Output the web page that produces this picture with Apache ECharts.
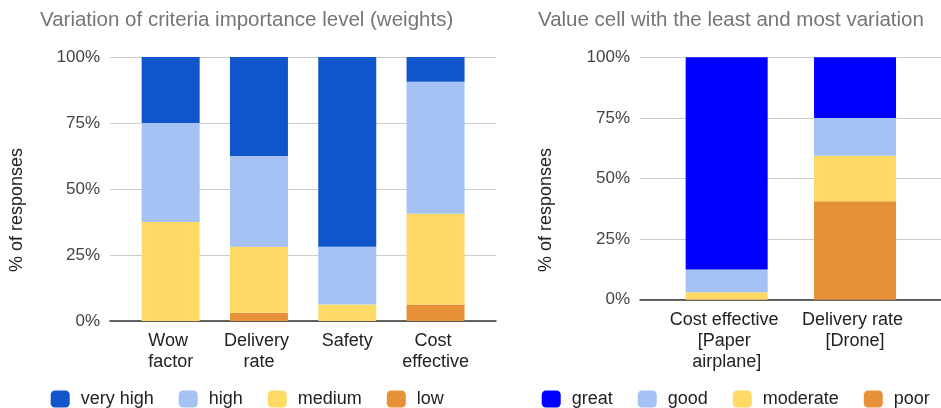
<!DOCTYPE html>
<html>
<head>
<meta charset="utf-8">
<script src="https://cdn.jsdelivr.net/npm/echarts@6/dist/echarts.min.js"></script>
<style>
html,body{margin:0;padding:0;background:#fff;}
#chart{width:941px;height:408px;}
</style>
</head>
<body>
<div id="chart"></div>
<script>
// ---- data ----
const leftTitle = 'Variation of criteria importance level (weights)';
const rightTitle = 'Value cell with the least and most variation';
const yAxisName = '% of responses';
const yTicks = [0, 25, 50, 75, 100];

const leftCategories = ['Wow factor', 'Delivery rate', 'Safety', 'Cost effective'];
const lowVals      = [0,    3.1,  0,    6.25];
const mediumVals   = [37.5, 25,   6.25, 34.4];
const highVals     = [37.5, 34.4, 21.9, 50];
const veryHighVals = [25,   37.5, 71.9, 9.4];

const rightCategories = ['Cost effective [Paper airplane]', 'Delivery rate [Drone]'];
const poorVals     = [0,    40.6];
const moderateVals = [3.1,  18.8];
const goodVals     = [9.4,  15.6];
const greatVals    = [87.5, 25];

const leftNames = ['low', 'medium', 'high', 'very high'];
const rightNames = ['poor', 'moderate', 'good', 'great'];

// ---- styles ----
const FONT = 'Liberation Sans, Arial, sans-serif';
const leftColors = ['#e69138', '#ffd966', '#a4c2f4', '#1155cc'];
const rightColors = ['#e69138', '#ffd966', '#a4c2f4', '#0000ff'];

const chart = echarts.init(document.getElementById('chart'), null, {renderer: 'canvas'});

function lineGrid(idx) {
  return {
    y: {
      gridIndex: idx, type: 'value', min: yTicks[0], max: yTicks[yTicks.length - 1], interval: 25,
      axisLine: {show: false}, axisTick: {show: false},
      axisLabel: {formatter: '{value}%', fontSize: 17, color: '#444', fontFamily: FONT, margin: 10},
      splitLine: {lineStyle: {color: '#cccccc', width: 1}}
    },
    x: {
      gridIndex: idx, type: 'value', min: 0, max: 1,
      axisLine: {show: true, onZero: false, lineStyle: {color: '#333', width: 1.5}},
      axisTick: {show: false}, axisLabel: {show: false}, splitLine: {show: false}
    }
  };
}
const g0 = lineGrid(0), g2 = lineGrid(2);

function barX(idx, cats, w) {
  return {
    gridIndex: idx, type: 'category', data: cats,
    axisLine: {show: false}, axisTick: {show: false},
    axisLabel: {
      interval: 0, fontSize: 18, color: '#222', fontFamily: FONT, margin: 10,
      width: w, overflow: 'break', lineHeight: 21, align: 'center'
    }
  };
}
function barY(idx) {
  return {gridIndex: idx, type: 'value', min: 0, max: 100, show: false, splitLine: {show: false}};
}

const series = [];
const leftData = [lowVals, mediumVals, highVals, veryHighVals];
leftNames.forEach((n, i) => {
  series.push({
    name: n, type: 'bar', stack: 'L', xAxisIndex: 1, yAxisIndex: 1,
    data: leftData[i], barWidth: 58, itemStyle: {color: leftColors[i]}
  });
});
const rightData = [poorVals, moderateVals, goodVals, greatVals];
rightNames.forEach((n, i) => {
  series.push({
    name: n, type: 'bar', stack: 'R', xAxisIndex: 3, yAxisIndex: 3,
    data: rightData[i], barWidth: 82, itemStyle: {color: rightColors[i]}
  });
});

const legendBase = {
  orient: 'horizontal', top: 390, padding: 0, itemWidth: 19, itemHeight: 17, itemGap: 25,
  icon: 'roundRect',
  textStyle: {fontSize: 18, color: '#222', fontFamily: FONT, padding: [0, 0, 0, 6]}
};

chart.setOption({
  animation: false,
  backgroundColor: '#fff',
  title: [
    {text: leftTitle, left: 40, top: 10, padding: 0,
     textStyle: {fontSize: 20.5, fontWeight: 'normal', color: '#757575', fontFamily: FONT}},
    {text: rightTitle, left: 538, top: 10, padding: 0,
     textStyle: {fontSize: 20.5, fontWeight: 'normal', color: '#757575', fontFamily: FONT}}
  ],
  grid: [
    {left: 110, top: 57, width: 386, height: 264, containLabel: false},
    {left: 126.5, top: 57, width: 353.2, height: 264, containLabel: false},
    {left: 640, top: 57.3, width: 301, height: 242.4, containLabel: false},
    {left: 662.5, top: 57.3, width: 256.7, height: 242.4, containLabel: false}
  ],
  xAxis: [g0.x, barX(1, leftCategories, 82), g2.x, barX(3, rightCategories, 122)],
  yAxis: [g0.y, barY(1), g2.y, barY(3)],
  legend: [
    Object.assign({}, legendBase, {left: 50.7, data: leftNames.slice().reverse()}),
    Object.assign({}, legendBase, {left: 541.7, data: rightNames.slice().reverse()})
  ],
  graphic: [
    {type: 'text', x: 17.5, y: 210, rotation: Math.PI / 2,
     style: {text: yAxisName, fontSize: 18, fill: '#222', fontFamily: FONT, align: 'center', verticalAlign: 'middle'}},
    {type: 'text', x: 546, y: 210, rotation: Math.PI / 2,
     style: {text: yAxisName, fontSize: 18, fill: '#222', fontFamily: FONT, align: 'center', verticalAlign: 'middle'}}
  ],
  series: series
});
</script>
</body>
</html>
